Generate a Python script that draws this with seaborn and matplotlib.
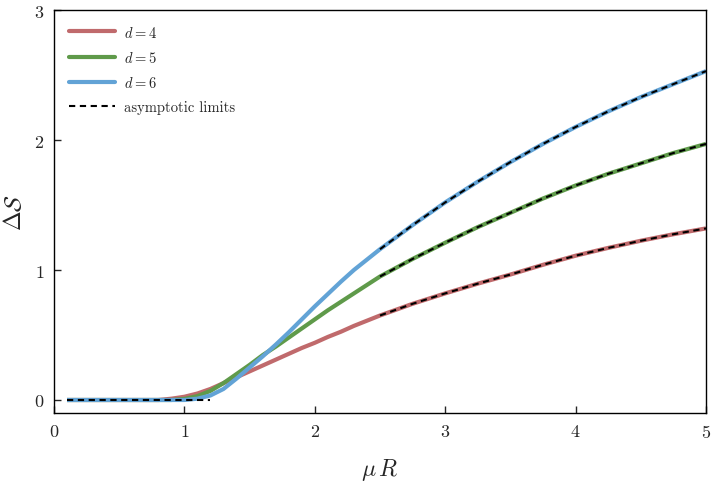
import numpy as np
import pandas as pd
import matplotlib
matplotlib.use("Agg")
import matplotlib.pyplot as plt
import seaborn as sns
from matplotlib.lines import Line2D

# ---- data ----
x_vals = [0.1, 0.2, 0.3, 0.4, 0.5, 0.6, 0.7, 0.8, 0.9, 1.0, 1.1, 1.2, 1.3, 1.4,
          1.5, 1.6, 1.7, 1.8, 1.9, 2.0, 2.1, 2.2, 2.3, 2.4, 2.5, 2.75, 3.0,
          3.25, 3.5, 3.75, 4.0, 4.25, 4.5, 4.75, 5.0]
d4_vals = [0, 0, 0, 0, 0, 0, 0, 0.0, 0.01, 0.025, 0.05, 0.085, 0.13, 0.175,
           0.22, 0.265, 0.31, 0.355, 0.40, 0.44, 0.485, 0.525, 0.57, 0.61, 0.65,
           0.74, 0.82, 0.895, 0.965, 1.04, 1.11, 1.17, 1.225, 1.275, 1.32]
d5_vals = [0, 0, 0, 0, 0, 0, 0, 0, 0.0, 0.008, 0.03, 0.07, 0.13, 0.20,
           0.27, 0.345, 0.41, 0.48, 0.55, 0.62, 0.69, 0.755, 0.82, 0.885, 0.95,
           1.085, 1.21, 1.33, 1.44, 1.55, 1.65, 1.74, 1.82, 1.90, 1.97]
d6_vals = [0, 0, 0, 0, 0, 0, 0, 0, 0, 0.0, 0.01, 0.035, 0.085, 0.165,
           0.25, 0.335, 0.425, 0.52, 0.62, 0.72, 0.815, 0.91, 1.0, 1.08, 1.16,
           1.345, 1.52, 1.68, 1.83, 1.97, 2.10, 2.22, 2.33, 2.43, 2.53]
labels = ["$d=4$", "$d=5$", "$d=6$"]
asym_label = "asymptotic limits"
small_limit_x = [0.1, 1.2]
small_limit_y = [0.0, 0.0]
large_limit_start = 2.5

colors = ["#c06a6c", "#5f9a4a", "#62a3d6"]

sns.set_theme(style="ticks")
plt.rcParams.update({
    "font.family": "serif",
    "font.serif": ["cmr10", "DejaVu Serif"],
    "mathtext.fontset": "cm",
    "axes.formatter.use_mathtext": True,
    "axes.unicode_minus": False,
})

fig = plt.figure(figsize=(7.14, 4.85), dpi=100)
ax = fig.add_axes([0.0756, 0.1464, 0.9132, 0.8309])

df = pd.DataFrame({"x": x_vals, "d4": d4_vals, "d5": d5_vals, "d6": d6_vals})
for col, lab, c in zip(["d4", "d5", "d6"], labels, colors):
    sns.lineplot(data=df, x="x", y=col, ax=ax, color=c, lw=3.0,
                 legend=False, solid_capstyle="butt")

dash_kw = dict(color="black", lw=1.5, dashes=(3, 2.2))
sns.lineplot(x=small_limit_x, y=small_limit_y, ax=ax, legend=False, **dash_kw)
big = df[df["x"] >= large_limit_start]
for col in ["d4", "d5", "d6"]:
    sns.lineplot(data=big, x="x", y=col, ax=ax, legend=False, **dash_kw)

ax.set_xlim(0, 5)
ax.set_ylim(-0.1, 3)
ax.set_xticks([0, 1, 2, 3, 4, 5])
ax.set_yticks([0, 1, 2, 3])
ax.tick_params(direction="in", length=5, width=1.0, labelsize=13,
               top=False, right=False, pad=7)
for s in ax.spines.values():
    s.set_visible(True)
    s.set_linewidth(1.0)
    s.set_color("black")

ax.set_xlabel(r"$\mu\,R$", fontsize=17, labelpad=12)
ax.set_ylabel(r"$\Delta\mathcal{S}$", fontsize=17, labelpad=6)

handles = [Line2D([], [], color=c, lw=3.0) for c in colors]
handles.append(Line2D([], [], color="black", lw=1.5, ls=(0, (3, 2.2))))
ax.legend(handles, labels + [asym_label], loc="upper left", frameon=False,
          fontsize=10.5, handlelength=3.2, labelspacing=0.7,
          borderaxespad=0.6, handletextpad=0.6)

fig.savefig("out.png", dpi=100)
